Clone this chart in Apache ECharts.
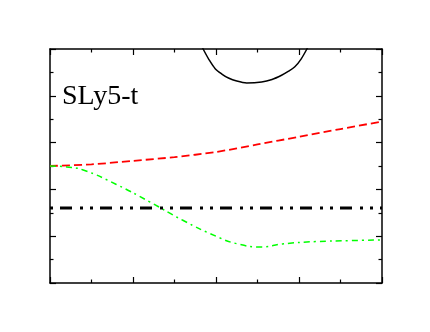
<!DOCTYPE html>
<html>
<head>
<meta charset="utf-8">
<script src="https://cdn.jsdelivr.net/npm/echarts@6/dist/echarts.min.js"></script>
<style>
  html, body { margin: 0; padding: 0; background: #fff; }
  #main { width: 430px; height: 332px; }
</style>
</head>
<body>
<div id="main"></div>
<script>
// values (x: 0..8, y: 0..10)
const solidX = [3.55, 3.69, 3.83, 3.98, 4.14, 4.3, 4.5, 4.74, 5.1, 5.35, 5.58, 5.75, 5.9, 6.05, 6.19, 6.3];
const solidY = [10.5, 10.0, 9.55, 9.16, 8.93, 8.76, 8.63, 8.55, 8.59, 8.7, 8.88, 9.05, 9.24, 9.57, 10.0, 10.4];
const redX = [0, 1, 2, 3, 4, 5, 6, 7, 8];
const redY = [5.0, 5.07, 5.22, 5.38, 5.6, 5.92, 6.25, 6.58, 6.9];
const greenX = [0, 0.4, 0.8, 1.6, 2.4, 3.2, 4.0, 4.5, 5.1, 5.6, 6.4, 7.2, 8];
const greenY = [5.0, 4.96, 4.83, 4.21, 3.47, 2.68, 2.0, 1.68, 1.54, 1.67, 1.77, 1.81, 1.84];
const flatX = [0, 8];
const flatY = [3.21, 3.21];
const label = 'SLy5-t';

function pairs(xs, ys) {
    return xs.map((x, i) => [x, ys[i]]);
}

const chart = echarts.init(document.getElementById('main'));

const xBase = {
    type: 'value', min: 0, max: 8, interval: 2,
    axisLine: { show: true, onZero: false, lineStyle: { color: '#000', width: 1.5 } },
    axisTick: { show: true, inside: true, length: 6, lineStyle: { color: '#000', width: 1.2 } },
    minorTick: { show: true, splitNumber: 2, length: 3.5, lineStyle: { color: '#000', width: 1.2 } },
    axisLabel: { show: false },
    splitLine: { show: false },
    minorSplitLine: { show: false }
};
const yBase = Object.assign({}, xBase, { min: 0, max: 10, interval: 2 });

const option = {
    backgroundColor: '#fff',
    animation: false,
    grid: { left: 50, right: 48, top: 49, bottom: 49 },
    xAxis: [
        Object.assign({}, xBase, { position: 'bottom' }),
        Object.assign({}, xBase, { position: 'top' })
    ],
    yAxis: [
        Object.assign({}, yBase, { position: 'left' }),
        Object.assign({}, yBase, { position: 'right' })
    ],
    graphic: [{
        type: 'text',
        left: 62,
        top: 83,
        style: {
            text: label,
            fill: '#000',
            font: '28px "Liberation Serif"'
        }
    }],
    series: [{
        type: 'line', showSymbol: false, smooth: 0.3, clip: true,
        data: pairs(solidX, solidY),
        lineStyle: { color: '#000', width: 1.5 }
    }, {
        type: 'line', showSymbol: false, smooth: 0.3,
        data: pairs(redX, redY),
        lineStyle: { color: '#ff0000', width: 1.8, type: [8, 4] }
    }, {
        type: 'line', showSymbol: false, smooth: 0.5,
        data: pairs(greenX, greenY),
        lineStyle: { color: '#00ff00', width: 1.5, type: [6, 4, 2, 4] }
    }, {
        type: 'line', showSymbol: false,
        data: pairs(flatX, flatY),
        lineStyle: { color: '#000', width: 3, type: [12, 8, 3, 7, 3, 7], dashOffset: 30 }
    }]
};

chart.setOption(option);
</script>
</body>
</html>
